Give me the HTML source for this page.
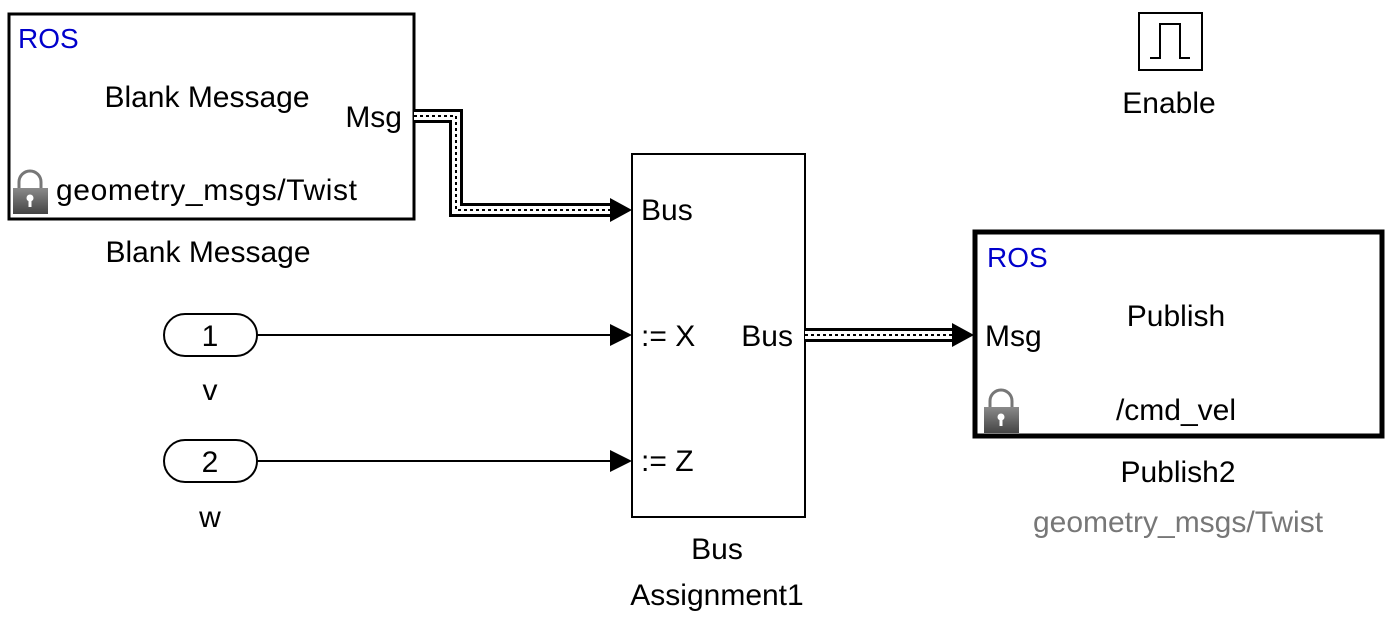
<!DOCTYPE html>
<html><head><meta charset="utf-8"><style>
html,body{margin:0;padding:0;background:#fff;}
svg{display:block;font-family:"Liberation Sans",Arial,sans-serif;}
text{font-size:30px;fill:#000;}
</style></head><body>
<svg width="1388" height="623" viewBox="0 0 1388 623">
<defs>
<linearGradient id="lg" x1="0" y1="0" x2="0" y2="1"><stop offset="0" stop-color="#8a8a8a"/><stop offset="1" stop-color="#444"/></linearGradient>
</defs>
<g>
<rect x="9" y="14" width="405" height="205" fill="#fff" stroke="#000" stroke-width="3"/>
<text x="18" y="48" style="fill:#0000cc;font-size:28px">ROS</text>
<text x="207" y="107" text-anchor="middle">Blank Message</text>
<text x="402" y="127" text-anchor="end">Msg</text>
<g>
<path d="M19 188 v-6 a11 11 0 0 1 22 0 v6" fill="none" stroke="#777" stroke-width="3"/>
<rect x="13" y="188" width="35" height="26" fill="url(#lg)"/>
<circle cx="30" cy="198" r="3.5" fill="#fff"/><rect x="28.5" y="199" width="3" height="8" fill="#fff"/>
</g>
<text x="56" y="200" textLength="301">geometry_msgs/Twist</text>
</g>
<text x="208" y="262" text-anchor="middle">Blank Message</text>
<g>
<path d="M414 116 H456 V210 H616" fill="none" stroke="#000" stroke-width="14"/>
<path d="M414 116 H456 V210 H616" fill="none" stroke="#fff" stroke-width="8"/>
<path d="M414 116 H456 V210 H616" fill="none" stroke="#000" stroke-width="2" stroke-dasharray="3 3"/>
<polygon points="610,198 632,210 610,222" fill="#000"/>
</g>
<g>
<rect x="632" y="154" width="173" height="363" fill="#fff" stroke="#000" stroke-width="2"/>
<text x="641" y="220">Bus</text>
<text x="641" y="346">:= X</text>
<text x="641" y="471">:= Z</text>
<text x="793" y="346" text-anchor="end">Bus</text>
</g>
<text x="717" y="559" text-anchor="middle">Bus</text>
<text x="717" y="605" text-anchor="middle">Assignment1</text>
<g>
<rect x="164" y="314" width="93" height="42" rx="21" fill="#fff" stroke="#000" stroke-width="2"/>
<text x="210" y="346" text-anchor="middle">1</text>
</g>
<text x="210" y="400" text-anchor="middle">v</text>
<g>
<rect x="164" y="440" width="93" height="42" rx="21" fill="#fff" stroke="#000" stroke-width="2"/>
<text x="210" y="472" text-anchor="middle">2</text>
</g>
<text x="210" y="527" text-anchor="middle">w</text>
<g>
<line x1="257" y1="335" x2="615" y2="335" stroke="#000" stroke-width="2"/>
<polygon points="610,324 632,335 610,346" fill="#000"/>
</g>
<g>
<line x1="257" y1="461" x2="615" y2="461" stroke="#000" stroke-width="2"/>
<polygon points="610,450 632,461 610,472" fill="#000"/>
</g>
<g>
<path d="M805 335 H958" fill="none" stroke="#000" stroke-width="14"/>
<path d="M805 335 H958" fill="none" stroke="#fff" stroke-width="8"/>
<path d="M805 335 H958" fill="none" stroke="#000" stroke-width="2" stroke-dasharray="3 3"/>
<polygon points="952,323 974,335 952,347" fill="#000"/>
</g>
<g>
<rect x="975" y="232" width="407" height="204" fill="#fff" stroke="#000" stroke-width="5"/>
<text x="987" y="267" style="fill:#0000cc;font-size:28px">ROS</text>
<text x="1176" y="326" text-anchor="middle">Publish</text>
<text x="985" y="346">Msg</text>
<text x="1176" y="420" text-anchor="middle">/cmd_vel</text>
<g>
<path d="M990 407 v-6 a11 11 0 0 1 22 0 v6" fill="none" stroke="#777" stroke-width="3"/>
<rect x="984" y="407" width="35" height="26" fill="url(#lg)"/>
<circle cx="1001" cy="417" r="3.5" fill="#fff"/><rect x="999.5" y="418" width="3" height="8" fill="#fff"/>
</g>
</g>
<text x="1178" y="482" text-anchor="middle">Publish2</text>
<text x="1178" y="532" text-anchor="middle" style="fill:#777">geometry_msgs/Twist</text>
<g>
<rect x="1139" y="13" width="63" height="57" fill="#fff" stroke="#000" stroke-width="2"/>
<path d="M1150 58 H1160 V24 H1180 V58 H1190" fill="none" stroke="#000" stroke-width="2"/>
</g>
<text x="1169" y="113" text-anchor="middle">Enable</text>
</svg>
</body></html>
